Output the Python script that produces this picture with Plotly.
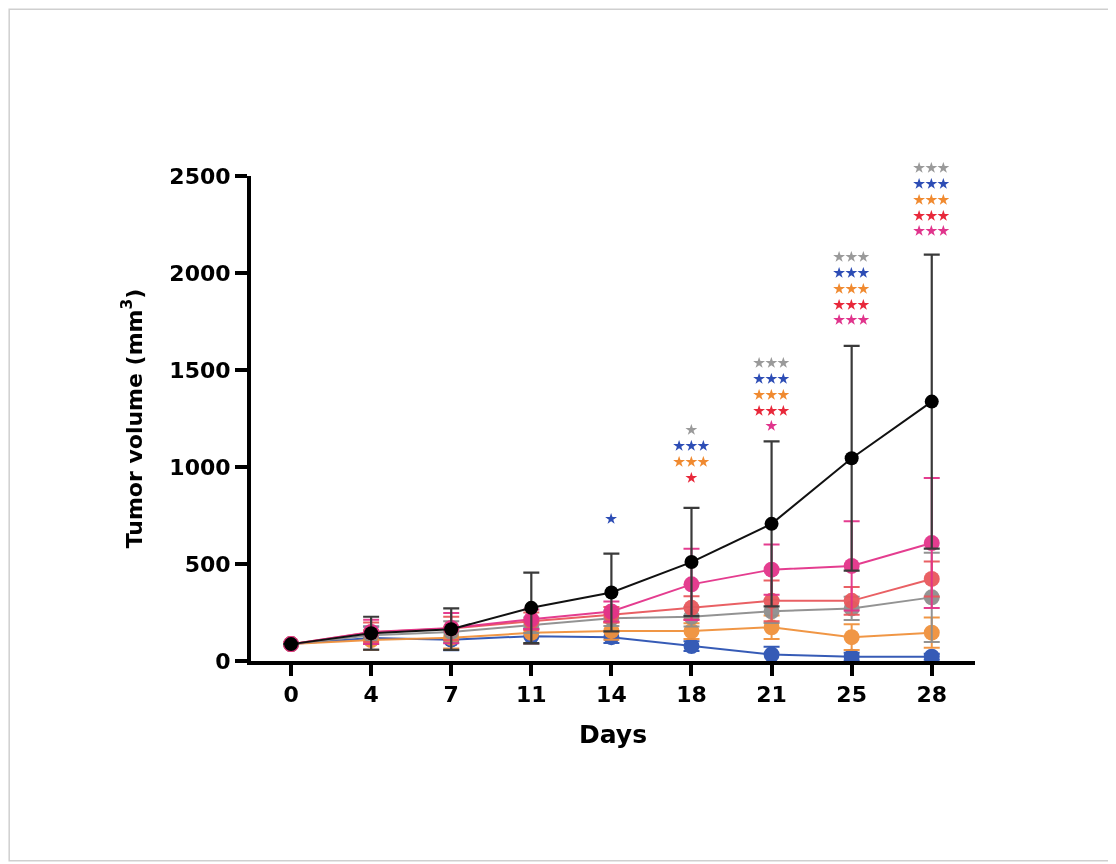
import plotly.graph_objects as go

# tumour volume (mm3) per group, mean and SD
days = ["0", "4", "7", "11", "14", "18", "21", "25", "28"]

control = [87, 143, 164, 274, 353, 510, 707, 1045, 1337]
control_sd = [0, 85, 107, 182, 200, 279, 425, 579, 758]

pink = [87, 150, 170, 215, 255, 395, 471, 490, 608]
pink_sd = [0, 62, 78, 50, 52, 184, 130, 230, 335]

red = [87, 148, 168, 205, 238, 274, 310, 310, 423]
red_sd = [0, 50, 60, 45, 40, 60, 105, 72, 90]

gray = [87, 133, 150, 184, 220, 228, 256, 271, 328]
gray_sd = [0, 45, 55, 40, 40, 50, 60, 60, 230]

orange = [87, 108, 120, 145, 155, 154, 174, 123, 146]
orange_sd = [0, 50, 55, 55, 45, 40, 60, 66, 78]

blue = [87, 118, 110, 128, 123, 77, 33, 22, 22]
blue_sd = [0, 60, 55, 40, 30, 25, 40, 20, 15]

# significance stars above each day: (day index, y of top row, rows of (colour, count))
sig_groups = [
    (4, 737, [("blue", 1)]),
    (5, 1196, [("gray", 1), ("blue", 3), ("orange", 3), ("red", 1)]),
    (6, 1541, [("gray", 3), ("blue", 3), ("orange", 3), ("red", 3), ("pink", 1)]),
    (7, 2088, [("gray", 3), ("blue", 3), ("orange", 3), ("red", 3), ("pink", 3)]),
    (8, 2546, [("gray", 3), ("blue", 3), ("orange", 3), ("red", 3), ("pink", 3)]),
]

line_col = {"pink": "#E3338A", "red": "#E8585C", "gray": "#8E8E8E",
            "orange": "#F0913C", "blue": "#2C53B3"}
star_col = {"pink": "#E0348C", "red": "#E8283A", "gray": "#9A9A9A",
            "orange": "#F08A30", "blue": "#2D4DB5"}

FONT = "DejaVu Sans, sans-serif"
YMAX = 2500
xi = list(range(len(days)))

fig = go.Figure()

series = [("blue", blue, blue_sd), ("orange", orange, orange_sd),
          ("gray", gray, gray_sd), ("red", red, red_sd), ("pink", pink, pink_sd)]
for name, vals, sd in series:
    c = line_col[name]
    fig.add_trace(go.Scatter(
        x=xi, y=vals, mode="lines+markers", name=name,
        line=dict(color=c, width=2),
        marker=dict(color=c, size=16),
        error_y=dict(type="data", array=sd, color=c, thickness=2, width=8),
        opacity=0.95, cliponaxis=False, showlegend=False))

fig.add_trace(go.Scatter(
    x=xi, y=control, mode="lines+markers", name="control",
    line=dict(color="#111111", width=2),
    marker=dict(color="black", size=14),
    error_y=dict(type="data", array=control_sd, color="#3a3a3a", thickness=2.2, width=8),
    cliponaxis=False, showlegend=False))

# one text block per day, each row coloured like its group
step = 81
for idx, top, rows in sig_groups:
    lines = ['<span style="color:%s">%s</span>' % (star_col[c], "★" * n) for c, n in rows]
    mid = top - (len(rows) - 1) * step / 2
    fig.add_annotation(x=idx, y=mid / YMAX, xref="x", yref="paper",
                       text="<br>".join(lines), showarrow=False,
                       xanchor="center", yanchor="middle",
                       font=dict(family="Noto Sans CJK JP", size=12.2))

# thin grey frame around the whole picture
fig.add_shape(type="rect", xref="paper", yref="paper",
              x0=-0.334, x1=1.189, y0=-0.412, y1=1.344,
              line=dict(color="#cfcfcf", width=1.5))

fig.update_layout(
    width=1116, height=864,
    margin=dict(l=243, r=149, t=168, b=211),
    paper_bgcolor="white", plot_bgcolor="white",
    font=dict(family=FONT, color="black"),
    xaxis=dict(
        range=[-0.5, 8.54], tickvals=xi, ticktext=days,
        showline=True, linecolor="black", linewidth=4,
        ticks="outside", ticklen=11, tickwidth=4, tickcolor="black",
        showgrid=False, zeroline=False,
        tickfont=dict(family=FONT, size=22, color="black", weight="bold"),
        title=dict(text="<b>Days</b>", font=dict(family=FONT, size=25), standoff=20)),
    yaxis=dict(
        range=[0, YMAX], tickvals=[0, 500, 1000, 1500, 2000, 2500],
        showline=True, linecolor="black", linewidth=4,
        ticks="outside", ticklen=12, tickwidth=4, tickcolor="black",
        showgrid=False, zeroline=False,
        tickfont=dict(family=FONT, size=22, color="black", weight="bold"),
        title=dict(text="<b>Tumor volume (mm<sup>3</sup>)</b>",
                   font=dict(family=FONT, size=22), standoff=22)),
)

fig.write_html("out.html")
